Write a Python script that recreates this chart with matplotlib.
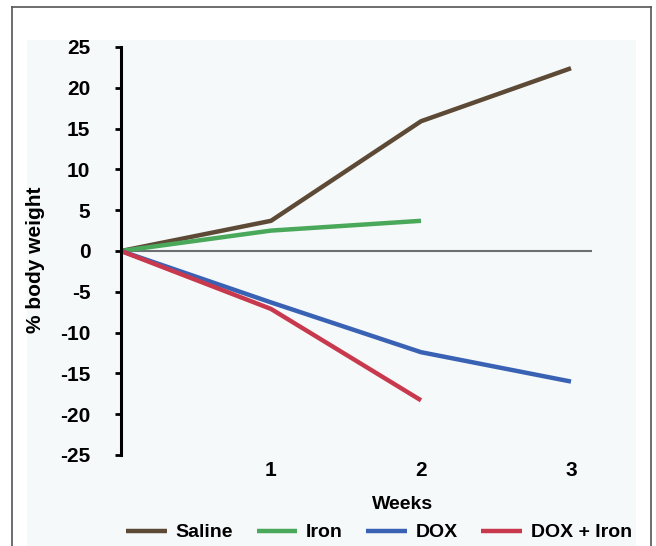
import matplotlib.pyplot as plt
from matplotlib.patches import Rectangle
from matplotlib.lines import Line2D

weeks = [0, 1, 2, 3]
saline = [0, 3.7, 15.9, 22.4]
iron = [0, 2.5, 3.7]
dox = [0, -6.3, -12.4, -16.0]
dox_iron = [0, -7.1, -18.3]

plt.rcParams['font.family'] = ['Liberation Sans', 'DejaVu Sans']
plt.rcParams['font.weight'] = 'bold'
plt.rcParams['axes.unicode_minus'] = False

W, H = 656, 546
fig = plt.figure(figsize=(6.56, 5.46), dpi=100)

# light panel and outer frame
fig.patches.append(Rectangle((27 / W, 0), 609 / W, 1 - 40 / H, transform=fig.transFigure,
                             facecolor='#f6f9f9', edgecolor='none', zorder=-1))
frame_kw = dict(transform=fig.transFigure, color='#555555', linewidth=1.2)
fig.lines.append(Line2D([12 / W, 12 / W], [0, 1 - 7 / H], **frame_kw))
fig.lines.append(Line2D([12 / W, 651 / W], [1 - 7 / H, 1 - 7 / H], **frame_kw))
fig.lines.append(Line2D([651 / W, 651 / W], [0, 1 - 7 / H], **frame_kw))

ax = fig.add_axes([121 / W, 1 - 455 / H, (592 - 121) / W, (455 - 47) / H])
ax.set_facecolor('none')
ax.set_zorder(3)

ax.axhline(0, color='#6b6f72', linewidth=1.5, zorder=1)
ax.plot(weeks, saline, color='#5c4a36', linewidth=3.2, label='Saline', solid_capstyle='butt')
ax.plot(weeks[:3], iron, color='#4aa85a', linewidth=3.2, label='Iron', solid_capstyle='butt')
ax.plot(weeks, dox, color='#3a62b4', linewidth=3.2, label='DOX', solid_capstyle='butt')
ax.plot(weeks[:3], dox_iron, color='#c8394d', linewidth=3.2, label='DOX + Iron', solid_capstyle='butt')

ax.set_xlim(0, 3.14)
ax.set_ylim(-25, 25)
ax.set_yticks(range(-25, 30, 5))
ax.set_xticks([1, 2, 3])

for s in ['top', 'right', 'bottom']:
    ax.spines[s].set_visible(False)
ax.spines['left'].set_linewidth(2.2)
ax.tick_params(axis='y', direction='out', length=4, width=2, labelsize=15, pad=18)
ax.tick_params(axis='x', length=0, labelsize=15, pad=4)

ax.set_ylabel('% body weight', fontsize=15, fontweight='bold')
ax.yaxis.set_label_coords(-0.161, 0.478)
ax.set_xlabel('Weeks', fontsize=14, fontweight='bold')
ax.xaxis.set_label_coords(0.597, -0.1)

ax.legend(loc='center', bbox_to_anchor=(0.548, -0.19), ncol=4, frameon=False,
          fontsize=14, handlelength=2.1, handletextpad=0.45, columnspacing=1.2)

fig.savefig('out.png', dpi=100)
